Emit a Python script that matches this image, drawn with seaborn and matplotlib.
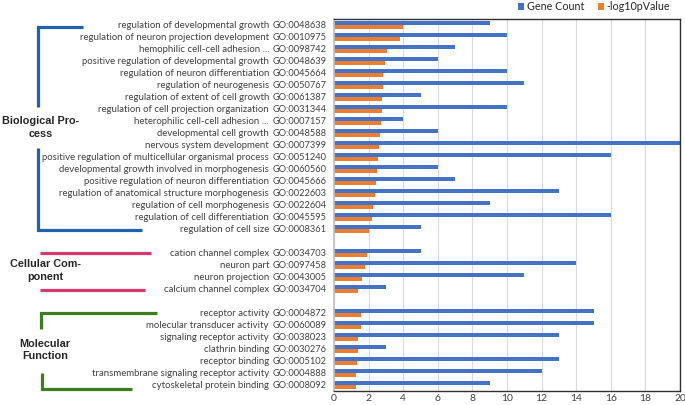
import numpy as np
import pandas as pd
import matplotlib
matplotlib.use("Agg")
import matplotlib.pyplot as plt
import seaborn as sns
from matplotlib.lines import Line2D
from matplotlib.font_manager import FontProperties
from matplotlib.transforms import blended_transform_factory

# Biological Process
bp_terms = [
    "regulation of developmental growth",
    "regulation of neuron projection development",
    "hemophilic cell-cell adhesion ...",
    "positive regulation of developmental growth",
    "regulation of neuron differentiation",
    "regulation of neurogenesis",
    "regulation of extent of cell growth",
    "regulation of cell projection organization",
    "heterophilic cell-cell adhesion ...",
    "developmental cell growth",
    "nervous system development",
    "positive regulation of multicellular organismal process",
    "developmental growth involved in morphogenesis",
    "positive regulation of neuron differentiation",
    "regulation of anatomical structure morphogenesis",
    "regulation of cell morphogenesis",
    "regulation of cell differentiation",
    "regulation of cell size",
]
bp_ids = ["GO:0048638", "GO:0010975", "GO:0098742", "GO:0048639", "GO:0045664",
          "GO:0050767", "GO:0061387", "GO:0031344", "GO:0007157", "GO:0048588",
          "GO:0007399", "GO:0051240", "GO:0060560", "GO:0045666", "GO:0022603",
          "GO:0022604", "GO:0045595", "GO:0008361"]
bp_count = [9, 10, 7, 6, 10, 11, 5, 10, 4, 6, 20, 16, 6, 7, 13, 9, 16, 5]
bp_logp = [3.97, 3.81, 3.08, 2.95, 2.83, 2.81, 2.77, 2.77, 2.74, 2.68,
           2.60, 2.54, 2.50, 2.41, 2.37, 2.24, 2.22, 2.00]

# Cellular Component
cc_terms = ["cation channel complex", "neuron part", "neuron projection",
            "calcium channel complex"]
cc_ids = ["GO:0034703", "GO:0097458", "GO:0043005", "GO:0034704"]
cc_count = [5, 14, 11, 3]
cc_logp = [1.93, 1.81, 1.62, 1.37]

# Molecular Function
mf_terms = ["receptor activity", "molecular transducer activity",
            "signaling receptor activity", "clathrin binding", "receptor binding",
            "transmembrane signaling receptor activity", "cytoskeletal protein binding"]
mf_ids = ["GO:0004872", "GO:0060089", "GO:0038023", "GO:0030276", "GO:0005102",
          "GO:0004888", "GO:0008092"]
mf_count = [15, 15, 13, 3, 13, 12, 9]
mf_logp = [1.54, 1.54, 1.41, 1.37, 1.33, 1.29, 1.27]

series_names = ["Gene Count", "-log10pValue"]
x_ticks = [0, 2, 4, 6, 8, 10, 12, 14, 16, 18, 20]

sns.set_theme(style="white")
label_font = ['Lato', 'DejaVu Sans']
plt.rcParams['font.family'] = label_font

ids = bp_ids + cc_ids + mf_ids
terms = dict(zip(ids, bp_terms + cc_terms + mf_terms))
counts = bp_count + cc_count + mf_count
logps = bp_logp + cc_logp + mf_logp
order = bp_ids + ["gap1"] + cc_ids + ["gap2"] + mf_ids

df = pd.DataFrame({
    "go": ids * 2,
    "value": counts + logps,
    "series": [series_names[0]] * len(ids) + [series_names[1]] * len(ids),
})

W, H = 685, 405
def fx(x):
    return x / W
def fy(y):
    return 1 - y / H

fig = plt.figure(figsize=(6.85, 4.05), dpi=100)
renderer = fig.canvas.get_renderer()

def fit_size(s, target_px, **kw):
    # font size that makes text s about target_px wide
    prop = FontProperties(family=kw.get("family", label_font), size=10,
                          weight=kw.get("weight", "normal"))
    w = renderer.get_text_width_height_descent(s, prop, ismath=False)[0]
    return 10 * target_px / w

term_size = fit_size("positive regulation of multicellular organismal process", 226)
id_size = fit_size("GO:0048638", 54)
leg_size = fit_size("Gene Count", 57)
tick_size = fit_size("20", 12)

ax = fig.add_axes([fx(334), fy(391), 346 / W, 372 / H])

sns.barplot(data=df, x="value", y="go", hue="series", order=order,
            hue_order=series_names, orient="h", palette=["#4472C4", "#ED7D31"],
            width=0.62, saturation=1, linewidth=0, ax=ax)

ax.set_xlim(0, 20)
ax.set_xticks(x_ticks)
ax.set_xticklabels([str(t) for t in x_ticks], fontsize=tick_size, color="#404040")
ax.tick_params(axis="x", length=0, pad=2)
ax.set_yticks(range(len(order)))
ax.set_yticklabels([g if g in terms else "" for g in order], fontsize=id_size, color="#404040")
ax.tick_params(axis="y", length=0, pad=5)
ax.set_xlabel("")
ax.set_ylabel("")
ax.grid(axis="x", color="#d9d9d9", lw=0.8)
ax.set_axisbelow(True)
for side in ["top", "right", "bottom"]:
    ax.spines[side].set_color("#303030")
    ax.spines[side].set_linewidth(1)
ax.spines["left"].set_color("#bfbfbf")

# term names left of GO ids
tr = blended_transform_factory(fig.transFigure, ax.transData)
for i, g in enumerate(order):
    if g in terms:
        ax.text(fx(269), i, terms[g], transform=tr, ha="right", va="center",
                fontsize=term_size, color="#404040", clip_on=False)

sns.move_legend(ax, "upper left", bbox_to_anchor=(fx(513), 1.01),
                bbox_transform=fig.transFigure, ncol=2, title=None, frameon=False,
                fontsize=leg_size, handlelength=0.55, handleheight=0.55,
                handletextpad=0.3, columnspacing=1.2, borderaxespad=0.1)

# group labels
grp_font = ['Liberation Sans', 'DejaVu Sans']
fig.text(fx(41), fy(127.5), "Biological Pro-\ncess", ha="center", va="center",
         fontsize=7.8, fontweight="bold", family=grp_font, linespacing=1.35)
fig.text(fx(45), fy(270.5), "Cellular Com-\nponent", ha="center", va="center",
         fontsize=7.8, fontweight="bold", family=grp_font, linespacing=1.35)
fig.text(fx(45), fy(350), "Molecular\nFunction", ha="center", va="center",
         fontsize=7.8, fontweight="bold", family=grp_font, linespacing=1.35)

# brackets
def bracket(xs, ys, color):
    fig.add_artist(Line2D([fx(x) for x in xs], [fy(y) for y in ys],
                          transform=fig.transFigure, color=color, lw=2.3,
                          solid_joinstyle="miter", solid_capstyle="butt"))

blue, pink, green = "#1f62ae", "#d6376c", "#3c7d22"
bracket([83, 37.7, 37.7], [26.7, 26.7, 107], blue)
bracket([38, 38, 142], [148, 230, 230], blue)
bracket([40, 151], [253.3, 253.3], pink)
bracket([40, 145], [290.3, 290.3], pink)
bracket([156.7, 40.7, 40.7], [313.3, 313.3, 329], green)
bracket([41.7, 41.7, 132.3], [372.7, 389.3, 389.3], green)

fig.savefig("out.png", dpi=100)
